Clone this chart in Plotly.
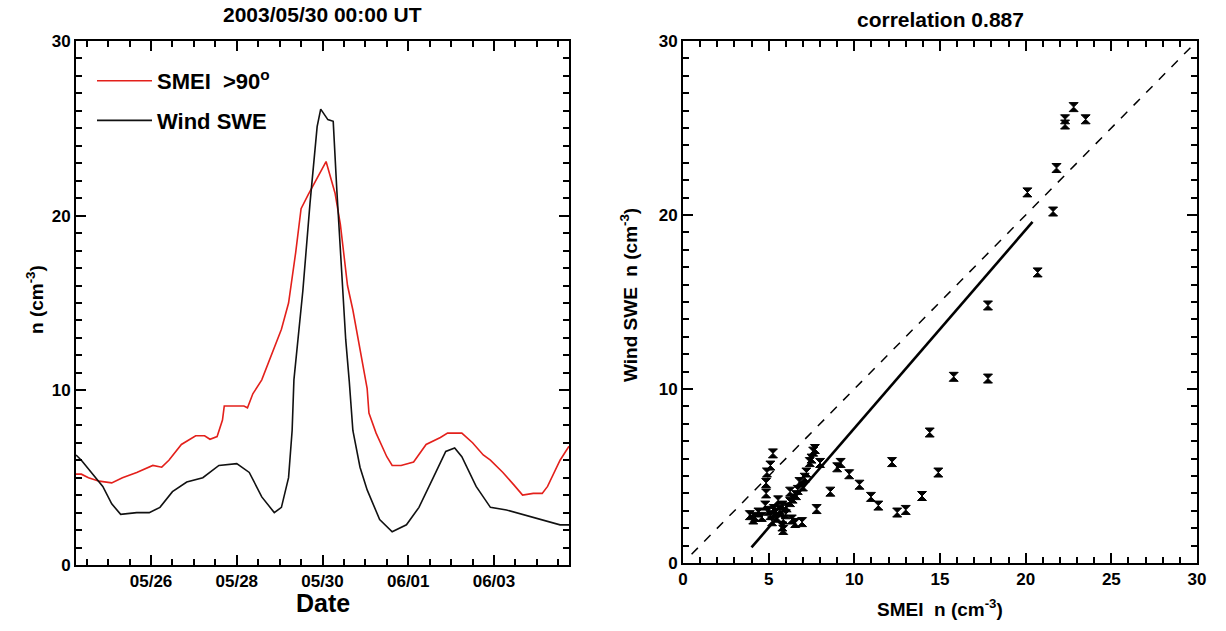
import plotly.graph_objects as go

# ---------------- data ----------------
swe_time = ["2003-05-24 06:00", "2003-05-24 09:00", "2003-05-24 21:00", "2003-05-25 02:00",
            "2003-05-25 07:00", "2003-05-25 16:00", "2003-05-25 23:00", "2003-05-26 05:00",
            "2003-05-26 12:00", "2003-05-26 20:00", "2003-05-27 05:00", "2003-05-27 14:00",
            "2003-05-28 00:00", "2003-05-28 07:00", "2003-05-28 14:00", "2003-05-28 21:00",
            "2003-05-29 01:00", "2003-05-29 05:00", "2003-05-29 07:00", "2003-05-29 08:00",
            "2003-05-29 13:00", "2003-05-29 17:00", "2003-05-29 21:00", "2003-05-29 23:00",
            "2003-05-30 03:00", "2003-05-30 06:00", "2003-05-30 08:00", "2003-05-30 11:00",
            "2003-05-30 13:00", "2003-05-30 15:00", "2003-05-30 17:00", "2003-05-30 21:00",
            "2003-05-31 01:00", "2003-05-31 08:00", "2003-05-31 15:00", "2003-05-31 23:00",
            "2003-06-01 06:00", "2003-06-01 14:00", "2003-06-01 21:00", "2003-06-02 02:00",
            "2003-06-02 06:00", "2003-06-02 14:00", "2003-06-02 22:00", "2003-06-03 07:00",
            "2003-06-03 14:00", "2003-06-04 00:00", "2003-06-04 07:00", "2003-06-04 13:00",
            "2003-06-04 18:00"]
swe_n = [6.3, 6.0, 4.5, 3.5, 2.9, 3.0, 3.0, 3.3, 4.2, 4.75, 5.0, 5.7, 5.8, 5.3, 3.9, 3.0,
         3.3, 5.0, 7.7, 10.6, 15.7, 20.7, 25.1, 26.1, 25.5, 25.4, 21.5, 16.7, 12.9, 10.5,
         7.7, 5.6, 4.3, 2.6, 1.9, 2.3, 3.3, 5.0, 6.5, 6.7, 6.2, 4.5, 3.3, 3.15, 2.95, 2.7,
         2.5, 2.3, 2.3]

smei_time = ["2003-05-24 06:00", "2003-05-24 09:00", "2003-05-24 13:00", "2003-05-24 19:00",
             "2003-05-25 02:00", "2003-05-25 08:00", "2003-05-25 16:00", "2003-05-26 01:00",
             "2003-05-26 06:00", "2003-05-26 10:00", "2003-05-26 17:00", "2003-05-27 01:00",
             "2003-05-27 06:00", "2003-05-27 09:00", "2003-05-27 13:00", "2003-05-27 16:00",
             "2003-05-27 17:00", "2003-05-28 04:00", "2003-05-28 06:00", "2003-05-28 09:00",
             "2003-05-28 14:00", "2003-05-28 20:00", "2003-05-29 01:00", "2003-05-29 05:00",
             "2003-05-29 09:00", "2003-05-29 12:00", "2003-05-29 16:00", "2003-05-30 02:00",
             "2003-05-30 07:00", "2003-05-30 10:00", "2003-05-30 14:00", "2003-05-30 17:00",
             "2003-05-31 01:00", "2003-05-31 02:00", "2003-05-31 06:00", "2003-05-31 12:00",
             "2003-05-31 15:00", "2003-05-31 20:00", "2003-06-01 03:00", "2003-06-01 10:00",
             "2003-06-01 18:00", "2003-06-01 22:00", "2003-06-02 06:00", "2003-06-02 12:00",
             "2003-06-02 18:00", "2003-06-02 22:00", "2003-06-03 05:00", "2003-06-03 11:00",
             "2003-06-03 16:00", "2003-06-03 22:00", "2003-06-04 03:00", "2003-06-04 06:00",
             "2003-06-04 13:00", "2003-06-04 18:00"]
smei_n = [5.2, 5.2, 5.0, 4.8, 4.7, 5.0, 5.3, 5.7, 5.6, 6.0, 6.9, 7.4, 7.4, 7.2, 7.35, 8.3,
          9.1, 9.1, 9.0, 9.8, 10.6, 12.2, 13.5, 15.0, 17.9, 20.4, 21.2, 23.1, 21.3, 19.5,
          16.0, 14.6, 10.1, 8.7, 7.55, 6.2, 5.7, 5.7, 5.9, 6.9, 7.3, 7.55, 7.55, 7.0, 6.3,
          6.0, 5.3, 4.6, 4.0, 4.1, 4.1, 4.5, 6.0, 6.8]

scatter_smei = [22.8, 22.3, 22.3, 23.5, 21.8, 20.1, 21.6, 20.7, 17.8, 15.8, 17.8, 14.4, 14.9,
                12.2, 13.95, 13.0, 12.5, 11.4, 10.97, 10.3, 9.7, 9.2, 9.0, 8.6, 7.8, 7.7, 7.6,
                8.0, 5.25, 5.1, 4.9, 4.85, 4.85, 4.8, 3.9, 4.2, 4.6, 5.1, 5.5, 5.8, 5.85, 5.65,
                6.05, 6.25, 6.4, 6.25, 6.7, 6.8, 7.1, 7.2, 7.4, 6.95, 6.55, 6.35, 5.4, 5.85,
                5.8, 5.55, 4.4, 5.0, 5.3, 7.5, 6.0, 4.1, 6.6, 7.0, 5.2]
scatter_wind = [26.2, 25.5, 25.2, 25.5, 22.7, 21.3, 20.2, 16.7, 14.8, 10.7, 10.6, 7.5, 5.2,
                5.8, 3.85, 3.05, 2.9, 3.3, 3.8, 4.5, 5.1, 5.75, 5.5, 4.1, 3.1, 6.55, 6.4,
                5.75, 6.3, 5.6, 5.2, 4.6, 4.0, 3.3, 2.75, 2.65, 2.65, 2.75, 2.6, 2.1, 1.9, 3.05,
                3.2, 3.5, 3.7, 4.1, 4.2, 4.65, 4.9, 5.2, 5.8, 2.35, 2.3, 2.5, 2.9, 2.5,
                3.3, 3.6, 2.9, 3.0, 3.1, 6.0, 2.8, 2.5, 3.9, 4.4, 2.4]

fit_x = [4.0, 20.4]
fit_y = [0.9, 19.6]
diag_x = [0.5, 29.7]
diag_y = [0.5, 29.7]

date_tick_vals = ["2003-05-26", "2003-05-28", "2003-05-30", "2003-06-01", "2003-06-03"]
date_tick_text = ["05/26", "05/28", "05/30", "06/01", "06/03"]
n_tick_vals = [0, 10, 20, 30]
scat_x_tick_vals = [0, 5, 10, 15, 20, 25, 30]

left_title = "2003/05/30 00:00 UT"
right_title = "correlation 0.887"

# ---------------- figure ----------------
W, H = 1226, 631
ML, MR, MT, MB = 60, 20, 30, 50
PW, PH = W - ML - MR, H - MT - MB


def fx(px):
    return (px - ML) / PW


def fy(py):
    return (H - MB - py) / PH


def bold(items):
    return ["<b>" + str(t) + "</b>" for t in items]


fig = go.Figure()

fig.add_trace(go.Scatter(x=smei_time, y=smei_n, mode="lines", name="<b>SMEI  >90<sup>o</sup></b>",
                         line=dict(color="#e3201b", width=1.6), legendgroup="a",
                         xaxis="x", yaxis="y"))
fig.add_trace(go.Scatter(x=swe_time, y=swe_n, mode="lines", name="<b>Wind SWE</b>",
                         line=dict(color="#111111", width=1.6), legendgroup="b",
                         xaxis="x", yaxis="y"))

fig.add_trace(go.Scatter(x=diag_x, y=diag_y, mode="lines", showlegend=False,
                         line=dict(color="black", width=1.5, dash="dash"),
                         xaxis="x2", yaxis="y2"))
fig.add_trace(go.Scatter(x=fit_x, y=fit_y, mode="lines", showlegend=False,
                         line=dict(color="black", width=2.6),
                         xaxis="x2", yaxis="y2"))
fig.add_trace(go.Scatter(x=scatter_smei, y=scatter_wind, mode="markers", showlegend=False,
                         marker=dict(symbol="hourglass", size=9, color="black",
                                     line=dict(width=1, color="black")),
                         xaxis="x2", yaxis="y2"))

FONT = "Liberation Sans"
tickfont = dict(family=FONT, size=17, color="black")

base = dict(showline=True, linecolor="black", linewidth=2, ticks="inside", mirror="allticks",
            ticklen=10, tickwidth=2, tickcolor="black", tickfont=tickfont,
            showgrid=False, zeroline=False, automargin=False)
minor_common = dict(ticks="inside", ticklen=6, tickwidth=2, tickcolor="black", showgrid=False)

fig.update_layout(
    width=W, height=H,
    margin=dict(l=ML, r=MR, t=MT, b=MB, autoexpand=False),
    paper_bgcolor="white", plot_bgcolor="white",
    xaxis=dict(domain=[fx(76), fx(569)], type="date",
               range=["2003-05-24 06:00", "2003-06-04 18:00"],
               tickvals=date_tick_vals, ticktext=bold(date_tick_text),
               minor=dict(dtick=43200000, tick0="2003-05-26", **minor_common),
               anchor="y", **base),
    yaxis=dict(domain=[fy(565), fy(41)], range=[0, 30],
               tickvals=n_tick_vals, ticktext=bold(n_tick_vals),
               minor=dict(dtick=1, **minor_common), anchor="x", **base),
    xaxis2=dict(domain=[fx(683), fx(1197)], range=[0, 30],
                tickvals=scat_x_tick_vals, ticktext=bold(scat_x_tick_vals),
                minor=dict(dtick=1, **minor_common), anchor="y2", **base),
    yaxis2=dict(domain=[fy(563), fy(41)], range=[0, 30],
                tickvals=n_tick_vals, ticktext=bold(n_tick_vals),
                minor=dict(dtick=1, **minor_common), anchor="x2", **base),
    legend=dict(x=fx(92), y=fy(60), xanchor="left", yanchor="top",
                bgcolor="rgba(0,0,0,0)", tracegroupgap=8, traceorder="grouped",
                itemwidth=55,
                font=dict(family=FONT, size=22, color="black")),
    showlegend=True,
)


def ann(text, px, py, size, angle=0):
    fig.add_annotation(text="<b>" + text + "</b>", x=fx(px), y=fy(py), xref="paper",
                       yref="paper", showarrow=False, textangle=angle,
                       font=dict(family=FONT, size=size, color="black"),
                       xanchor="center", yanchor="middle")


ann(left_title, 322, 14, 21)
ann(right_title, 940, 20, 21)
ann("Date", 323, 603, 25)
ann("n (cm<sup>-3</sup>)", 35, 300, 19, -90)
ann("SMEI  n (cm<sup>-3</sup>)", 940, 608, 19)
ann("Wind SWE  n (cm<sup>-3</sup>)", 629, 295, 19, -90)

fig.write_html("out.html")
